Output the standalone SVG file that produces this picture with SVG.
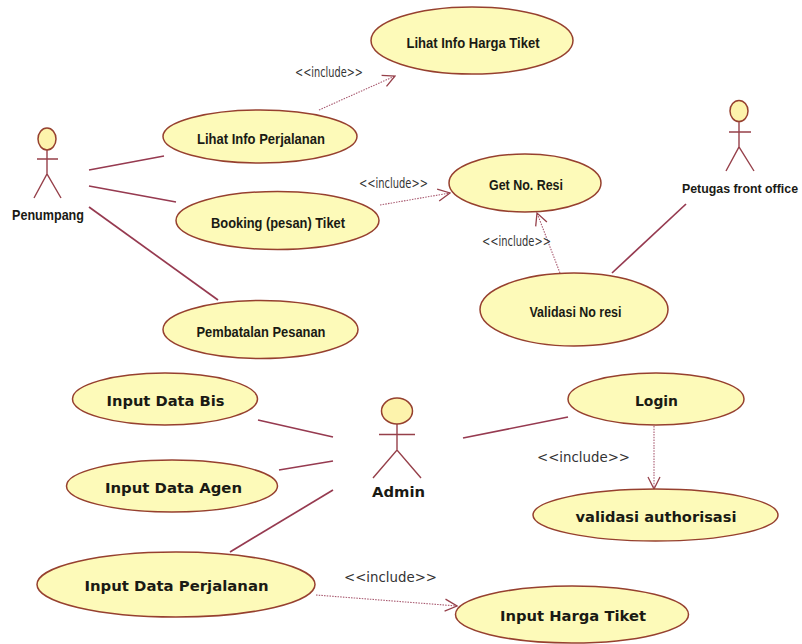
<svg xmlns="http://www.w3.org/2000/svg" width="802" height="644" viewBox="0 0 802 644">
<style>
.uc{fill:#fdfab9;stroke:#96402f;stroke-width:1.5}
.ac{fill:none;stroke:#96404a;stroke-width:1.4}
.head{fill:#fdf3ac;stroke:#96402f;stroke-width:1.5}
.sol{stroke:#963a50;stroke-width:1.7;fill:none}
.dot{stroke:#a85a70;stroke-width:1.1;stroke-dasharray:1.5 1.2;fill:none}
.lb{font-family:"DejaVu Sans",sans-serif;font-weight:bold;fill:#1a1a14;text-anchor:middle;font-size:13.5px}
.lt{font-family:"Liberation Sans",sans-serif;font-weight:bold;fill:#1a1a14;text-anchor:middle;font-size:14px}
.ls{font-family:"Liberation Sans",sans-serif;font-weight:bold;fill:#1a1a14;text-anchor:middle;font-size:12.5px}
.inc{font-family:"DejaVu Sans",sans-serif;fill:#333;text-anchor:middle;font-size:13.5px}
</style>
<defs>
<marker id="open" viewBox="0 0 14 14" refX="13" refY="7" markerWidth="14" markerHeight="14" markerUnits="userSpaceOnUse" orient="auto">
<path d="M1 1 L13 7 L1 13" fill="none" stroke="#96404a" stroke-width="1.3"/>
</marker>
</defs>
<rect width="802" height="644" fill="#fff"/>
<g id="connectors">
<line class="sol" x1="89" y1="170" x2="164" y2="156"/>
<line class="sol" x1="89" y1="186" x2="176" y2="202"/>
<line class="sol" x1="89" y1="207" x2="218" y2="300"/>
<line class="sol" x1="612" y1="273" x2="686" y2="204"/>
<line class="sol" x1="258" y1="420" x2="333" y2="437"/>
<line class="sol" x1="279" y1="470" x2="333" y2="461"/>
<line class="sol" x1="230" y1="552" x2="333" y2="490"/>
<line class="sol" x1="463" y1="438" x2="568" y2="417"/>
<line class="dot" x1="319" y1="110" x2="395" y2="76" marker-end="url(#open)"/>
<line class="dot" x1="380" y1="205" x2="450" y2="193" marker-end="url(#open)"/>
<line class="dot" x1="560" y1="273" x2="537" y2="213" marker-end="url(#open)"/>
<line class="dot" x1="654" y1="426" x2="654" y2="489" marker-end="url(#open)"/>
<line class="dot" x1="316" y1="595" x2="457" y2="606" marker-end="url(#open)"/>
<text class="inc" x="329" y="77" textLength="68" lengthAdjust="spacingAndGlyphs">&lt;&lt;include&gt;&gt;</text>
<text class="inc" x="393.500" y="188" textLength="69" lengthAdjust="spacingAndGlyphs">&lt;&lt;include&gt;&gt;</text>
<text class="inc" x="516.500" y="246" textLength="69" lengthAdjust="spacingAndGlyphs">&lt;&lt;include&gt;&gt;</text>
<text class="inc" x="583.500" y="462" textLength="93" lengthAdjust="spacingAndGlyphs">&lt;&lt;include&gt;&gt;</text>
<text class="inc" x="390.500" y="582" textLength="93" lengthAdjust="spacingAndGlyphs">&lt;&lt;include&gt;&gt;</text>
</g>
<g id="uc-harga"><ellipse class="uc" cx="472" cy="40.500" rx="101" ry="33.500"/><text class="lt" x="473" y="48" textLength="133" lengthAdjust="spacingAndGlyphs">Lihat Info Harga Tiket</text></g>
<g id="uc-perjalanan"><ellipse class="uc" cx="260" cy="136.500" rx="97" ry="26.500"/><text class="lt" x="261" y="144" textLength="128" lengthAdjust="spacingAndGlyphs">Lihat Info Perjalanan</text></g>
<g id="uc-booking"><ellipse class="uc" cx="277.500" cy="220.500" rx="101.500" ry="29"/><text class="lt" x="278" y="228" textLength="134" lengthAdjust="spacingAndGlyphs">Booking (pesan) Tiket</text></g>
<g id="uc-batal"><ellipse class="uc" cx="260.500" cy="329.500" rx="97.500" ry="29"/><text class="lt" x="261" y="337" textLength="129" lengthAdjust="spacingAndGlyphs">Pembatalan Pesanan</text></g>
<g id="uc-resi"><ellipse class="uc" cx="525" cy="183" rx="76" ry="29"/><text class="lt" x="526" y="190" textLength="74" lengthAdjust="spacingAndGlyphs">Get No. Resi</text></g>
<g id="uc-validasi"><ellipse class="uc" cx="574" cy="309.500" rx="94" ry="36.500"/><text class="lt" x="575.500" y="317" textLength="92" lengthAdjust="spacingAndGlyphs">Validasi No resi</text></g>
<g id="uc-bis"><ellipse class="uc" cx="165" cy="399" rx="92.500" ry="26"/><text class="lb" x="165.500" y="406" textLength="118" lengthAdjust="spacingAndGlyphs">Input Data Bis</text></g>
<g id="uc-agen"><ellipse class="uc" cx="172" cy="486" rx="105.500" ry="26"/><text class="lb" x="173.500" y="493" textLength="137" lengthAdjust="spacingAndGlyphs">Input Data Agen</text></g>
<g id="uc-dataperj"><ellipse class="uc" cx="176" cy="584.500" rx="139" ry="32.500"/><text class="lb" x="176.500" y="591" textLength="184" lengthAdjust="spacingAndGlyphs">Input Data Perjalanan</text></g>
<g id="uc-login"><ellipse class="uc" cx="656" cy="399" rx="88" ry="26"/><text class="lb" x="656.500" y="406" textLength="43" lengthAdjust="spacingAndGlyphs">Login</text></g>
<g id="uc-auth"><ellipse class="uc" cx="655.500" cy="515" rx="122.500" ry="26"/><text class="lb" x="656" y="522" textLength="161" lengthAdjust="spacingAndGlyphs">validasi authorisasi</text></g>
<g id="uc-hargainput"><ellipse class="uc" cx="572" cy="614.500" rx="116.500" ry="28.500"/><text class="lb" x="573" y="621" textLength="146" lengthAdjust="spacingAndGlyphs">Input Harga Tiket</text></g>
<g id="actor-penumpang">
<path class="ac" d="M47 150V174M37 159H58M34 198L47 174L61 198"/>
<ellipse class="head" cx="47" cy="139" rx="9" ry="11"/>
<text class="lt" x="48" y="220" textLength="72" lengthAdjust="spacingAndGlyphs">Penumpang</text>
</g>
<g id="actor-petugas">
<path class="ac" d="M739 121V147M729 132H751M726 171L739 147L754 171"/>
<ellipse class="head" cx="739" cy="111" rx="9" ry="10.500"/>
<text class="ls" x="740" y="193" textLength="116" lengthAdjust="spacingAndGlyphs">Petugas front office</text>
</g>
<g id="actor-admin">
<path class="ac" d="M397 424V450M379 434.500H415M373 478L397 450L421 478"/>
<ellipse class="head" cx="397" cy="411" rx="15.500" ry="13"/>
<text class="lb" x="398.500" y="497" textLength="53" lengthAdjust="spacingAndGlyphs">Admin</text>
</g>
</svg>
